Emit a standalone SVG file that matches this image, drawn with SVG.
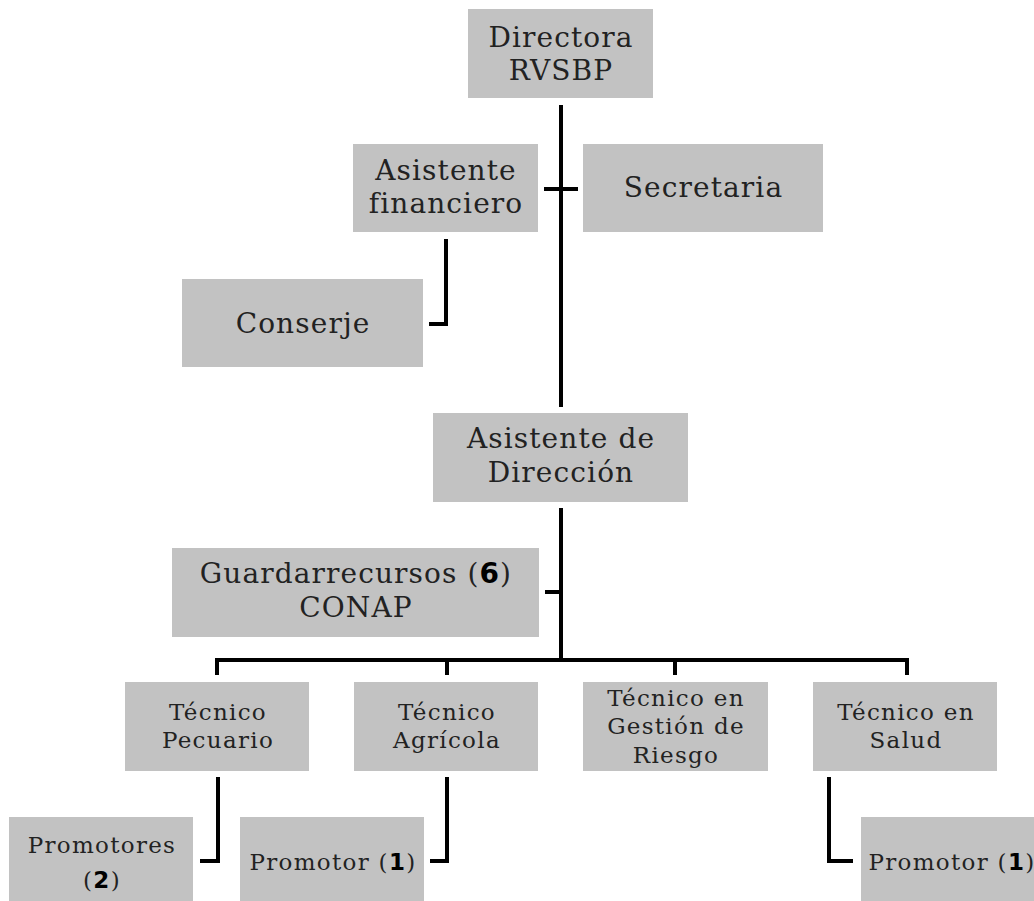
<svg xmlns="http://www.w3.org/2000/svg" width="1034" height="901" viewBox="0 0 1034 901">
<style>
.box{fill:#c2c2c2;}
.t{font-family:"DejaVu Serif","Liberation Serif",serif;fill:#222;text-anchor:middle;}
.big{font-size:28px;letter-spacing:1.1px;}
.sm{font-size:23px;letter-spacing:1.3px;}
.b{font-weight:bold;font-family:"DejaVu Sans","Liberation Sans",sans-serif;fill:#000;}
.c{fill:none;stroke:#000;stroke-width:4;}
</style>
<rect width="1034" height="901" fill="#fff"/>
<g id="connectors">
<path class="c" d="M561,105 V407"/>
<path class="c" d="M544,189 H578"/>
<path class="c" d="M446,239 V324 H429"/>
<path class="c" d="M561,508 V660"/>
<path class="c" d="M545,592 H561"/>
<path class="c" d="M217,675 V660 H907 V675"/>
<path class="c" d="M447,660 V675"/>
<path class="c" d="M675,660 V675"/>
<path class="c" d="M218,777 V861 H200"/>
<path class="c" d="M447,777 V861 H430"/>
<path class="c" d="M829,777 V861 H853"/>
</g>
<g id="directora">
<rect class="box" x="468" y="9" width="185" height="89"/>
<text class="t big" x="561" y="47">Directora</text>
<text class="t big" x="561" y="80">RVSBP</text>
</g>
<g id="asistente-financiero">
<rect class="box" x="353" y="144" width="185" height="88"/>
<text class="t big" x="446" y="180">Asistente</text>
<text class="t big" x="446" y="213">financiero</text>
</g>
<g id="secretaria">
<rect class="box" x="583" y="144" width="240" height="88"/>
<text class="t big" x="703.5" y="197">Secretaria</text>
</g>
<g id="conserje">
<rect class="box" x="182" y="279" width="241" height="88"/>
<text class="t big" x="303" y="333">Conserje</text>
</g>
<g id="asistente-direccion">
<rect class="box" x="433" y="413" width="255" height="89"/>
<text class="t big" x="561" y="448">Asistente de</text>
<text class="t big" x="561" y="482">Dirección</text>
</g>
<g id="guardarrecursos">
<rect class="box" x="172" y="548" width="367" height="89"/>
<text class="t big" x="356" y="583">Guardarrecursos (<tspan class="b">6</tspan>)</text>
<text class="t big" x="356" y="617">CONAP</text>
</g>
<g id="tecnico-pecuario">
<rect class="box" x="125" y="682" width="184" height="89"/>
<text class="t sm" x="218" y="720">Técnico</text>
<text class="t sm" x="218" y="748">Pecuario</text>
</g>
<g id="tecnico-agricola">
<rect class="box" x="354" y="682" width="184" height="89"/>
<text class="t sm" x="447" y="720">Técnico</text>
<text class="t sm" x="447" y="748">Agrícola</text>
</g>
<g id="tecnico-gestion">
<rect class="box" x="583" y="682" width="185" height="89"/>
<text class="t sm" x="676" y="706">Técnico en</text>
<text class="t sm" x="676" y="734">Gestión de</text>
<text class="t sm" x="676" y="763">Riesgo</text>
</g>
<g id="tecnico-salud">
<rect class="box" x="813" y="682" width="184" height="89"/>
<text class="t sm" x="906" y="720">Técnico en</text>
<text class="t sm" x="906" y="748">Salud</text>
</g>
<g id="promotores-2">
<rect class="box" x="9" y="817" width="184" height="90"/>
<text class="t sm" x="102" y="853">Promotores</text>
<text class="t sm" x="102" y="888">(<tspan class="b">2</tspan>)</text>
</g>
<g id="promotor-agricola">
<rect class="box" x="240" y="817" width="184" height="90"/>
<text class="t sm" x="333" y="870">Promotor (<tspan class="b">1</tspan>)</text>
</g>
<g id="promotor-salud">
<rect class="box" x="861" y="817" width="184" height="90"/>
<text class="t sm" x="952" y="870">Promotor (<tspan class="b">1</tspan>)</text>
</g>
</svg>
